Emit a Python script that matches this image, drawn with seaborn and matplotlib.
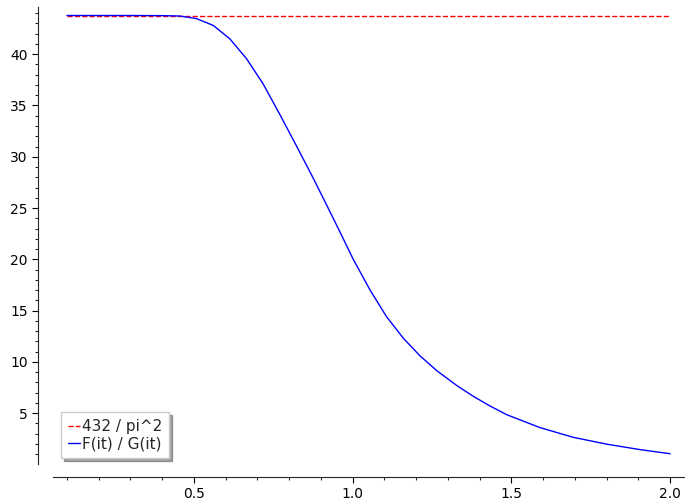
import numpy as np
import pandas as pd
import matplotlib
matplotlib.use('Agg')
import matplotlib.pyplot as plt
import seaborn as sns
from matplotlib.ticker import MultipleLocator

# --- DATA ---
const_label = "432 / pi^2"
const_x = [0.1, 2.0]
const_y = [432 / np.pi**2, 432 / np.pi**2]

ratio_label = "F(it) / G(it)"
ratio_x = [0.10, 0.20, 0.30, 0.40, 0.456, 0.508, 0.561, 0.613, 0.666, 0.718,
           0.771, 0.824, 0.876, 0.918, 0.950, 1.002, 1.055, 1.107, 1.160, 1.212,
           1.265, 1.328, 1.380, 1.433, 1.486, 1.590, 1.695, 1.801, 1.906, 2.000]
ratio_y = [43.77, 43.77, 43.77, 43.76, 43.72, 43.47, 42.8, 41.5, 39.55, 37.1,
           34.1, 31.0, 27.9, 25.3, 23.3, 20.0, 17.0, 14.4, 12.3, 10.6,
           9.15, 7.7, 6.65, 5.7, 4.85, 3.6, 2.65, 1.98, 1.45, 1.05]

# --- STYLE ---
sns.set_style("ticks")
plt.rcParams['font.family'] = ['DejaVu Sans']

fig = plt.figure(figsize=(6.85, 5.04), dpi=100)
ax = fig.add_axes([53/685, 40/504, 632/685, 457/504])

sns.lineplot(x=const_x, y=const_y, ax=ax, color='red', linestyle='--',
             linewidth=1.0, label=const_label)
sns.lineplot(x=ratio_x, y=ratio_y, ax=ax, color='blue', linewidth=1.0,
             label=ratio_label, sort=False, estimator=None)

ax.set_xlim(0.056, 2.047)
ax.set_ylim(0.05, 44.6)

ax.xaxis.set_major_locator(MultipleLocator(0.5))
ax.xaxis.set_minor_locator(MultipleLocator(0.1))
ax.yaxis.set_major_locator(MultipleLocator(5))
ax.yaxis.set_minor_locator(MultipleLocator(1))
ax.tick_params(which='major', length=4, width=0.8, labelsize=10, colors='black')
ax.tick_params(which='minor', length=2.3, width=0.8)

for s in ['top', 'right']:
    ax.spines[s].set_visible(False)
ax.spines['left'].set_position(('outward', 10.8))
ax.spines['bottom'].set_position(('outward', 9.4))
ax.set_xlabel("")
ax.set_ylabel("")

leg = ax.legend(loc='lower left', bbox_to_anchor=(0.013, 0.013), borderaxespad=0,
                fancybox=False, shadow=True, fontsize=11, handlelength=0.8,
                handletextpad=0.1, labelspacing=0.15, borderpad=0.45)
leg.get_frame().set_edgecolor('#cccccc')

fig.savefig("out.png", dpi=100)
